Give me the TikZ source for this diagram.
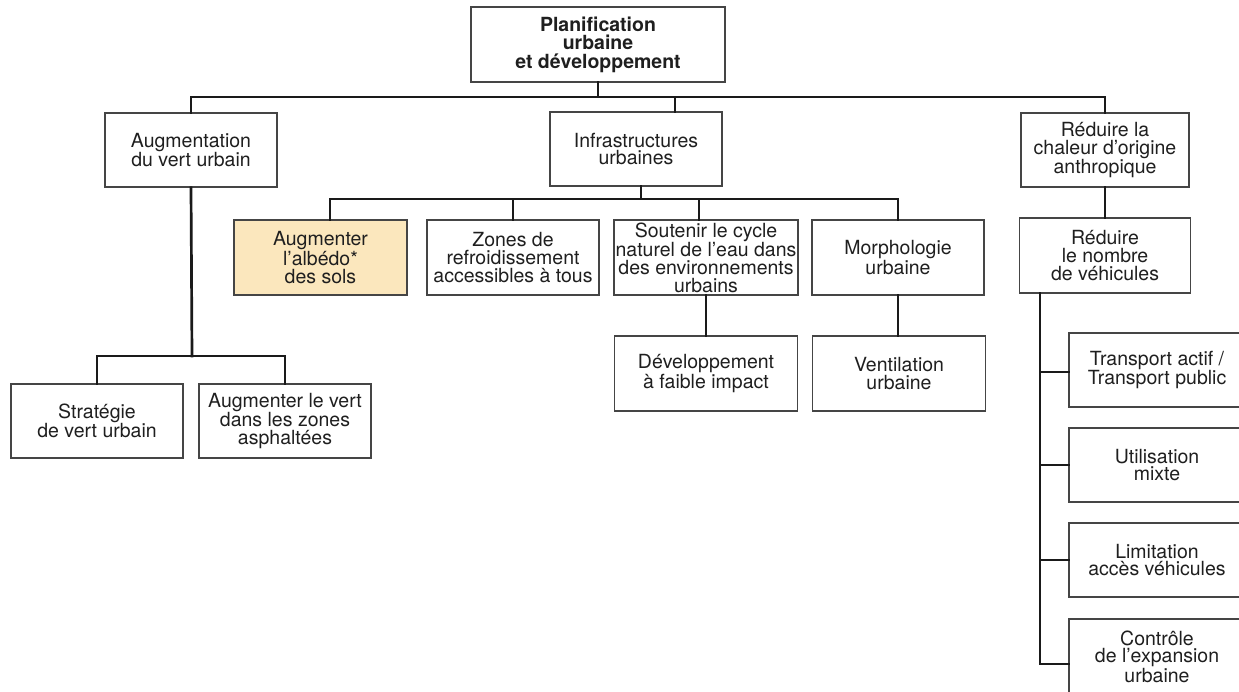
\documentclass[tikz,border=0pt]{standalone}
\usepackage{fontspec}
\setmainfont{TeX Gyre Heros}
\definecolor{boxline}{HTML}{454545}
\definecolor{conline}{HTML}{1A1A1A}
\definecolor{txt}{HTML}{1F1F1F}
\definecolor{albedo}{HTML}{FBE7BD}
\begin{document}
\begin{tikzpicture}[x=1pt,y=-1pt,
  box/.style={draw=boxline, line width=1.6pt, fill=white, align=center, inner sep=0pt,
    text=txt, font=\fontsize{19.5}{17.8}\selectfont, minimum height=74pt},
  conn/.style={draw=conline, line width=2.7pt, line cap=rect}]
\useasboundingbox (0,0) rectangle (1239,691);
\clip (0,0) rectangle (1239,691);
\fill[white] (0,0) rectangle (1239,691);

% nodes
\node[box, minimum width=254pt, minimum height=75pt, font=\fontsize{19.5}{18.5}\selectfont\bfseries] (top) at (598,44.5) {Planification\\urbaine\\et développement};
\node[box, minimum width=172pt] (aug) at (191,150) {Augmentation\\du vert urbain};
\node[box, minimum width=172pt] (infra) at (636,149) {Infrastructures\\urbaines};
\node[box, minimum width=168pt] (chal) at (1105,150) {Réduire la\\chaleur d’origine\\anthropique};

\node[box, minimum width=173pt, minimum height=75pt, fill=albedo] (alb) at (320.5,257.5) {Augmenter\\l’albédo*\\des sols};
\node[box, minimum width=172pt, minimum height=75pt] (zones) at (513,257.5) {Zones de\\refroidissement\\accessibles à tous};
\node[box, minimum width=184pt, minimum height=75pt] (cycle) at (706,257.5) {Soutenir le cycle\\naturel de l’eau dans\\des environnements\\urbains};
\node[box, minimum width=172pt, minimum height=75pt] (morph) at (898,257.5) {Morphologie\\urbaine};
\node[box, minimum width=171pt, minimum height=75pt] (nomb) at (1105,255.5) {Réduire\\le nombre\\de véhicules};

\node[box, minimum width=183pt, minimum height=75pt] (dev) at (706,373.5) {Développement\\à faible impact};
\node[box, minimum width=173pt, minimum height=75pt] (vent) at (899,373.5) {Ventilation\\urbaine};

\node[box, minimum width=172pt] (strat) at (97,421) {Stratégie\\de vert urbain};
\node[box, minimum width=172pt] (asph) at (285,421) {Augmenter le vert\\dans les zones\\asphaltées};

\node[box, minimum width=176pt] (transp) at (1157,370) {Transport actif /\\Transport public};
\node[box, minimum width=176pt] (util) at (1157,465) {Utilisation\\mixte};
\node[box, minimum width=176pt] (limit) at (1157,560) {Limitation\\accès véhicules};
\node[box, minimum width=176pt, minimum height=75pt] (contr) at (1157,656.5) {Contrôle\\de l’expansion\\urbaine};

% junction coordinates
\coordinate (j1) at (675,97);
\coordinate (j2) at (641,199);
\coordinate (a1) at (330,199);
\coordinate (c1) at (699,199);
\coordinate (g) at (192,356);
\coordinate (r1) at (1040,372);
\coordinate (r4) at (1040,664);

% connectors
\draw[conn] (top.south) -- (top.south |- j1);
\draw[conn] (aug.north) |- (j1) -| (chal.north);
\draw[conn] (j1) -- (j1 |- infra.north);
\draw[conn] (chal.south) -- (nomb.north);

\draw[conn] (j2 |- infra.south) -- (j2);
\draw[conn] (a1 |- alb.north) -- (a1) -| (morph.north);
\draw[conn] (zones.north) -- (zones.north |- j2);
\draw[conn] (c1) -- (c1 |- cycle.north);

\draw[conn] (cycle.south) -- (dev.north);
\draw[conn] (morph.south) -- (morph.south |- vent.north);

\draw[conn] (aug.south) -- (g);
\draw[conn] (strat.north) |- (g) -| (asph.north);

\draw[conn] (r4 |- nomb.south) -- (r4) -- (r4 -| contr.west);
\draw[conn] (r1) -- (r1 -| transp.west);
\draw[conn] (r4 |- util.west) -- (util.west);
\draw[conn] (r4 |- limit.west) -- (limit.west);
\end{tikzpicture}
\end{document}
